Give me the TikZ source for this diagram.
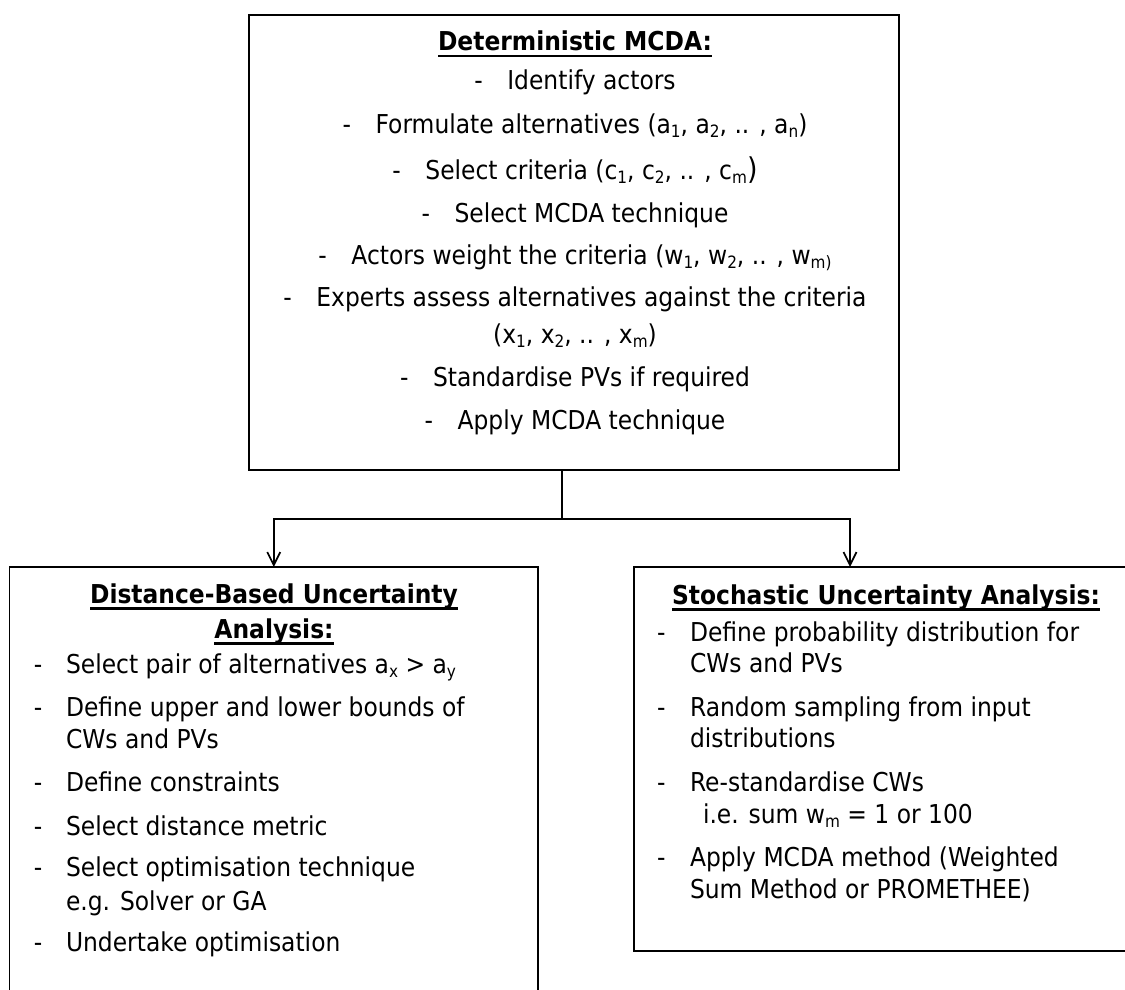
\documentclass[tikz,border=0pt]{standalone}
\usepackage{fontspec}
\setmainfont{DejaVu Sans}[FakeStretch=0.9]
\usetikzlibrary{arrows.meta}
% bold heading with an underline rule just below the baseline
\newsavebox{\headbox}
\newcommand{\heading}[1]{\sbox{\headbox}{\textbf{#1}}\rlap{\rule[-6.5pt]{\wd\headbox}{2.2pt}}\usebox{\headbox}}
% lowered, smaller index text
\newcommand{\lo}[1]{\raisebox{-4pt}{\fontsize{17}{17}\selectfont #1}}
% dash followed by a tab-like gap
\newcommand{\dashgap}{-\hspace{24.5pt}}
% several left-aligned lines whose first baseline is the node baseline
\newcommand{\lines}[1]{\begin{tabular}[t]{@{}l@{}}#1\end{tabular}}
\begin{document}
\begin{tikzpicture}[x=1pt,y=-1pt,
  panel/.style={draw=black, line width=1.7pt, inner sep=0pt, outer sep=0pt, anchor=north west},
  txt/.style={inner sep=0pt, outer sep=0pt, font=\fontsize{26}{32}\selectfont},
  link/.style={draw=black, line width=1.7pt},
  tip/.style={-{Straight Barb[length=13pt,width=13pt,line width=1.7pt]}}]
\useasboundingbox (0,0) rectangle (1125,990);
\clip (0,0) rectangle (1125,990);
\fill[white] (0,0) rectangle (1125,990);

% the three panels
\node[panel, minimum width=650pt, minimum height=455pt] (det) at (249,15) {};
\node[panel, minimum width=528.5pt, minimum height=450pt] (dist) at (9.5,567) {};
\node[panel, minimum width=504pt, minimum height=384pt] (stoch) at (634,567) {};

% deterministic MCDA steps
\node[txt, anchor=base] (dt) at (575,51) {\heading{Deterministic MCDA:}};
\node[txt, anchor=base] (d1) at (575,90) {\dashgap Identify actors};
\node[txt, anchor=base] (d2) at (575,133) {\dashgap Formulate alternatives (a\lo{1}, a\lo{2}, .. , a\lo{n})};
\node[txt, anchor=base] (d3) at (575,179) {\dashgap Select criteria (c\lo{1}, c\lo{2}, .. , c\lo{m}{\fontsize{30}{30}\selectfont)}};
\node[txt, anchor=base] (d4) at (575,222) {\dashgap Select MCDA technique};
\node[txt, anchor=base] (d5) at (575,264) {\dashgap Actors weight the criteria (w\lo{1}, w\lo{2}, .. , w\lo{m)}};
\node[txt, anchor=base] (d6) at (575,306) {\dashgap Experts assess alternatives against the criteria};
\node[txt, anchor=base] (d6b) at (575,343) {(x\lo{1}, x\lo{2}, .. , x\lo{m})};
\node[txt, anchor=base] (d7) at (575,386) {\dashgap Standardise PVs if required};
\node[txt, anchor=base] (d8) at (575,429) {\dashgap Apply MCDA technique};

% distance-based analysis
\node[txt, anchor=base] (lt) at (274,603) {\begin{tabular}[t]{@{}c@{}}\heading{Distance-Based Uncertainty}\\[3pt]\heading{Analysis:}\end{tabular}};
\foreach \n/\y in {1/673, 2/716, 3/791, 4/835, 5/876, 6/951}
  \node[txt, anchor=base west] (lm\n) at (34,\y) {-};
\node[txt, anchor=base west] (l1) at (66,673) {Select pair of alternatives a\lo{x} > a\lo{y}};
\node[txt, anchor=base west] (l2) at (66,716) {\lines{Define upper and lower bounds of\\CWs and PVs}};
\node[txt, anchor=base west] (l3) at (66,791) {Define constraints};
\node[txt, anchor=base west] (l4) at (66,835) {Select distance metric};
\node[txt, anchor=base west] (l5) at (66,876) {\lines{Select optimisation technique\\[2pt]e.g. Solver or GA}};
\node[txt, anchor=base west] (l6) at (66,951) {Undertake optimisation};

% stochastic analysis
\node[txt, anchor=base] (rt) at (886,604) {\heading{Stochastic Uncertainty Analysis:}};
\foreach \n/\y in {1/641, 2/716, 3/791, 4/866}
  \node[txt, anchor=base west] (rm\n) at (657,\y) {-};
\node[txt, anchor=base west] (r1) at (690,641) {\lines{Define probability distribution for\\[-1pt]CWs and PVs}};
\node[txt, anchor=base west] (r2) at (690,716) {\lines{Random sampling from input\\[-1pt]distributions}};
\node[txt, anchor=base west] (r3) at (690,791) {\lines{Re-standardise CWs\\\hspace{13pt}i.e. sum w\lo{m} = 1 or 100}};
\node[txt, anchor=base west] (r4) at (690,866) {\lines{Apply MCDA method (Weighted\\Sum Method or PROMETHEE)}};

% connectors
\coordinate (fork) at (562,519);
\draw[link] (det.south -| fork) -- (fork);
\draw[link, tip] (fork) -| (dist.north);
\draw[link, tip] (fork) -| ([xshift=216pt]stoch.north west);
\end{tikzpicture}
\end{document}
